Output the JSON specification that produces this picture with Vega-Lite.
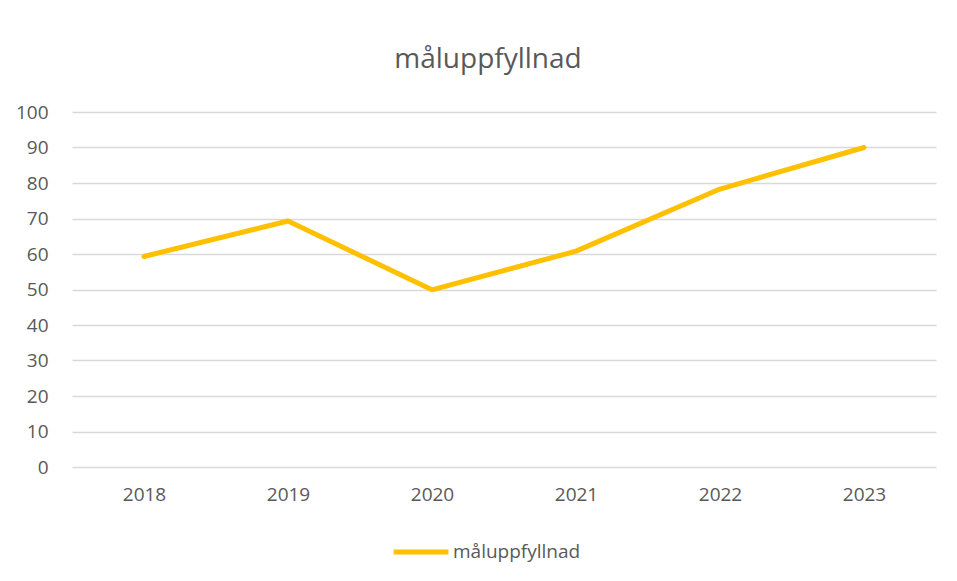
{
  "$schema": "https://vega.github.io/schema/vega-lite/v6.json",
  "autosize": "none",
  "width": 864,
  "height": 355,
  "padding": {"left": 72, "top": 112, "right": 21, "bottom": 114},
  "background": "white",
  "title": {
    "text": "måluppfyllnad",
    "font": "Open Sans",
    "fontSize": 28,
    "fontWeight": "normal",
    "color": "#595959",
    "anchor": "middle",
    "dx": -16,
    "offset": 29
  },
  "data": {
    "values": [
      {"year": "2018", "value": 59.3, "series": "måluppfyllnad"},
      {"year": "2019", "value": 69.3, "series": "måluppfyllnad"},
      {"year": "2020", "value": 49.9, "series": "måluppfyllnad"},
      {"year": "2021", "value": 60.8, "series": "måluppfyllnad"},
      {"year": "2022", "value": 78.3, "series": "måluppfyllnad"},
      {"year": "2023", "value": 90, "series": "måluppfyllnad"}
    ]
  },
  "mark": {"type": "line", "strokeWidth": 5, "strokeCap": "round", "strokeJoin": "round"},
  "encoding": {
    "x": {
      "field": "year",
      "type": "ordinal",
      "scale": {"paddingInner": 0, "paddingOuter": 0},
      "axis": {
        "title": null,
        "domain": false,
        "ticks": false,
        "labelAngle": 0,
        "labelFont": "Open Sans",
        "labelFontSize": 19,
        "labelColor": "#595959",
        "labelPadding": 18
      }
    },
    "y": {
      "field": "value",
      "type": "quantitative",
      "scale": {"domain": [0, 100]},
      "axis": {
        "title": null,
        "domain": false,
        "ticks": false,
        "values": [0, 10, 20, 30, 40, 50, 60, 70, 80, 90, 100],
        "labelFont": "Open Sans",
        "labelFontSize": 19,
        "labelColor": "#595959",
        "labelPadding": 24,
        "gridColor": "#d9d9d9",
        "gridWidth": 1.3
      }
    },
    "color": {
      "field": "series",
      "type": "nominal",
      "scale": {"range": ["#FFC000"]},
      "legend": {
        "title": null,
        "orient": "none",
        "legendX": 319,
        "legendY": 410,
        "symbolType": "stroke",
        "symbolSize": 3000,
        "symbolStrokeWidth": 5,
        "labelFont": "Open Sans",
        "labelFontSize": 19,
        "labelColor": "#595959",
        "labelOffset": 2
      }
    }
  },
  "config": {"view": {"stroke": null}}
}
